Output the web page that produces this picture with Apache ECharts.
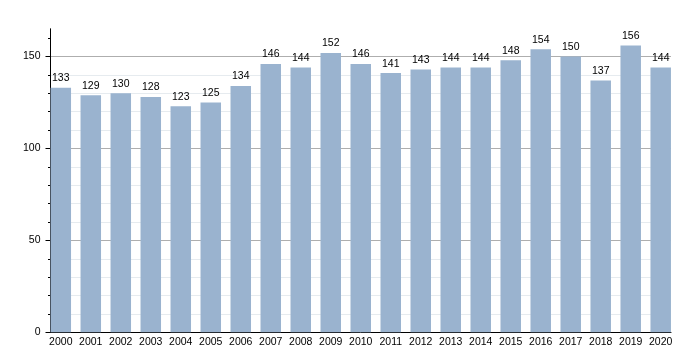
<!DOCTYPE html>
<html>
<head>
<meta charset="utf-8">
<script src="https://cdn.jsdelivr.net/npm/echarts@6/dist/echarts.min.js"></script>
<style>html,body{margin:0;padding:0;background:#fff}#c{width:700px;height:350px}</style>
</head>
<body>
<div id="c"></div>
<script>
const years = ['2000','2001','2002','2003','2004','2005','2006','2007','2008','2009','2010','2011','2012','2013','2014','2015','2016','2017','2018','2019','2020'];
const values = [133,129,130,128,123,125,134,146,144,152,146,141,143,144,144,148,154,150,137,156,144];
const yLabels = [0,50,100,150];
const yMinorTicks = [0,10,20,30,40,50,60,70,80,90,100,110,120,130,140,150,160];

const font = 'Liberation Sans, Arial, sans-serif';
const chart = echarts.init(document.getElementById('c'), null, {renderer: 'canvas'});
const idx = years.map((_, i) => i);
chart.setOption({
  animation: false,
  grid: {left: 50.5, right: 29, top: 29, bottom: 17.7},
  xAxis: {
    type: 'value',
    min: -0.343, max: years.length - 1 + 0.343,
    splitLine: {show: false},
    axisLine: {show: true, onZero: false, lineStyle: {color: '#000', width: 1}},
    axisTick: {show: false},
    axisLabel: {
      customValues: idx,
      formatter: v => years[Math.round(v)],
      color: '#000', fontSize: 10.5, fontFamily: font, margin: 4
    }
  },
  yAxis: [{
    type: 'value', min: 0, max: 165,
    axisLine: {show: true, onZero: false, lineStyle: {color: '#000'}},
    axisTick: {show: true, customValues: yMinorTicks, length: 2.5, lineStyle: {color: '#000'}},
    axisLabel: {customValues: yLabels, color: '#000', fontSize: 10.5, fontFamily: font, margin: 10},
    interval: 10,
    splitLine: {show: true, showMaxLine: false, showMinLine: false,
      lineStyle: {color: ['#e6ebef','#e6ebef','#e6ebef','#e6ebef','#aeaeae'], width: 1}}
  }, {
    type: 'value', min: 0, max: 165, position: 'left', offset: 0,
    axisLine: {show: true, onZero: false, lineStyle: {color: '#000'}},
    axisTick: {show: true, customValues: yLabels, length: 5, lineStyle: {color: '#000'}},
    axisLabel: {show: false},
    splitLine: {show: false}
  }],
  series: [{
    type: 'bar',
    yAxisIndex: 0,
    data: values.map((v, i) => [i, v]),
    barWidth: 20.5,
    itemStyle: {color: '#9ab3cf'},
    label: {show: true, position: 'top', distance: 4, color: '#000', fontSize: 10.5, fontFamily: font},
    z: 3
  }]
});
</script>
</body>
</html>
